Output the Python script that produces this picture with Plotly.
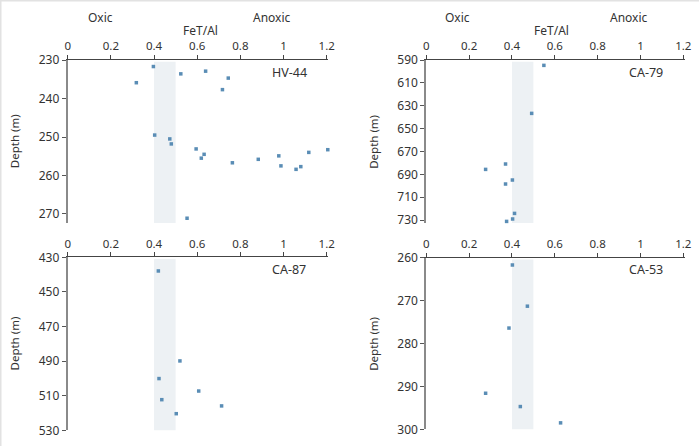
import plotly.graph_objects as go

W, H = 699, 446

# ---- data ----
hv44_fe = [0.397, 0.318, 0.524, 0.639, 0.744, 0.717, 0.403, 0.473, 0.480, 0.595, 0.632,
           0.619, 0.763, 0.883, 0.978, 0.988, 1.058, 1.080, 1.117, 1.205, 0.553]
hv44_depth = [231.7, 235.9, 233.6, 232.9, 234.7, 237.7, 249.5, 250.5, 251.8, 253.1, 254.5,
              255.5, 256.7, 255.8, 254.9, 257.5, 258.4, 257.7, 254.0, 253.3, 271.1]

ca79_fe = [0.549, 0.492, 0.370, 0.277, 0.402, 0.370, 0.412, 0.403, 0.375]
ca79_depth = [594.7, 636.7, 681.0, 685.7, 695.0, 698.5, 724.2, 729.1, 731.2]

ca87_fe = [0.420, 0.520, 0.423, 0.607, 0.436, 0.713, 0.503]
ca87_depth = [437.9, 489.9, 500.1, 507.3, 512.3, 515.9, 520.4]

ca53_fe = [0.402, 0.472, 0.386, 0.277, 0.439, 0.627]
ca53_depth = [261.7, 271.3, 276.4, 291.6, 294.7, 298.5]

x_ticks = [0, 0.2, 0.4, 0.6, 0.8, 1, 1.2]
x_ticklabels = ["0", "0.2", "0.4", "0.6", "0.8", "1", "1.2"]
band = [0.4, 0.5]
X_MAX = 1.208

panels = [
    # name, fe, depth, yrange, yticks, px-box (left, right-at-1.2, top, bottom)
    ("HV-44", hv44_fe, hv44_depth, [272.34, 230], [230, 240, 250, 260, 270], (67.7, 326.7, 60, 223)),
    ("CA-79", ca79_fe, ca79_depth, [732.6, 590], [590, 610, 630, 650, 670, 690, 710, 730], (426.3, 683.3, 60, 223)),
    ("CA-87", ca87_fe, ca87_depth, [530, 430], [430, 450, 470, 490, 510, 530], (67.7, 326.7, 257.3, 430.3)),
    ("CA-53", ca53_fe, ca53_depth, [300, 260], [260, 270, 280, 290, 300], (426.3, 683.3, 257.7, 429.3)),
]

FONT = "Noto Sans"
TXT = "#333333"
MARK = "#5a8db5"

fig = go.Figure()
layout = dict(
    template="none",
    width=W, height=H, margin=dict(l=0, r=0, t=0, b=0, autoexpand=False),
    paper_bgcolor="white", plot_bgcolor="rgba(0,0,0,0)",
    showlegend=False, font=dict(family=FONT, size=12, color=TXT),
)
shapes = []
annotations = []

def px(x):
    return x / W

def py(y):
    return 1 - y / H

for i, (name, fe, dep, yr, yt, box) in enumerate(panels):
    n = "" if i == 0 else str(i + 1)
    l, r, t, b = box
    r_ext = l + (r - l) * X_MAX / 1.2
    fig.add_trace(go.Scatter(
        x=fe, y=dep, mode="markers", xaxis="x" + n, yaxis="y" + n,
        marker=dict(symbol="square", size=3.5, color=MARK, line=dict(width=0)),
        cliponaxis=False, hoverinfo="x+y",
    ))
    layout["xaxis" + n] = dict(
        domain=[px(l), px(r_ext)], range=[0, X_MAX], side="top", anchor="y" + n,
        automargin=False,
        tickvals=x_ticks, ticktext=x_ticklabels, ticks="outside", ticklen=4,
        tickcolor="#444", showline=True, linecolor="#444", linewidth=1,
        showgrid=False, zeroline=False, tickfont=dict(size=11.5, color=TXT),
    )
    layout["yaxis" + n] = dict(
        domain=[py(b), py(t)], range=yr, anchor="x" + n, automargin=False,
        tickvals=yt, ticks="outside", ticklen=4, tickcolor="#555",
        showline=True, linecolor="#8a8a8a", linewidth=2,
        showgrid=False, zeroline=False, tickfont=dict(size=12, color=TXT),
    )
    shapes.append(dict(
        type="rect", xref="x" + n, yref="y" + n + " domain",
        x0=band[0], x1=band[1], y0=0, y1=0.99, layer="below",
        fillcolor="#edf1f4", line=dict(width=0),
    ))
    # panel label
    annotations.append(dict(
        text=name, xref="paper", yref="paper", x=px(r - 37.5), y=py(t + 12),
        showarrow=False, xanchor="center", yanchor="middle",
        font=dict(size=12.5, color=TXT),
    ))
    # depth title
    annotations.append(dict(
        text="Depth (m)", xref="paper", yref="paper", x=px(l - 53), y=py((t + b) / 2),
        showarrow=False, textangle=-90, xanchor="center", yanchor="middle",
        font=dict(size=11.5, color=TXT),
    ))

# top headers
for (ox, ax, fx) in [(100, 272, 200), (457.7, 629, 551.7)]:
    annotations.append(dict(text="Oxic", xref="paper", yref="paper", x=px(ox), y=py(17),
                            showarrow=False, xanchor="center", yanchor="middle",
                            font=dict(size=12, color=TXT)))
    annotations.append(dict(text="Anoxic", xref="paper", yref="paper", x=px(ax), y=py(17),
                            showarrow=False, xanchor="center", yanchor="middle",
                            font=dict(size=12, color=TXT)))
    annotations.append(dict(text="FeT/Al", xref="paper", yref="paper", x=px(fx), y=py(31),
                            showarrow=False, xanchor="center", yanchor="middle",
                            font=dict(size=12, color=TXT)))

# faint frame at top/left edges of the original image
shapes.append(dict(type="line", xref="paper", yref="paper", x0=0, x1=1, y0=py(0.5), y1=py(0.5),
                   line=dict(color="#e2e2e2", width=2)))
shapes.append(dict(type="line", xref="paper", yref="paper", x0=px(0.5), x1=px(0.5), y0=0, y1=1,
                   line=dict(color="#e2e2e2", width=2)))

layout["shapes"] = shapes
layout["annotations"] = annotations
fig.update_layout(**layout)
fig.write_html("out.html")
